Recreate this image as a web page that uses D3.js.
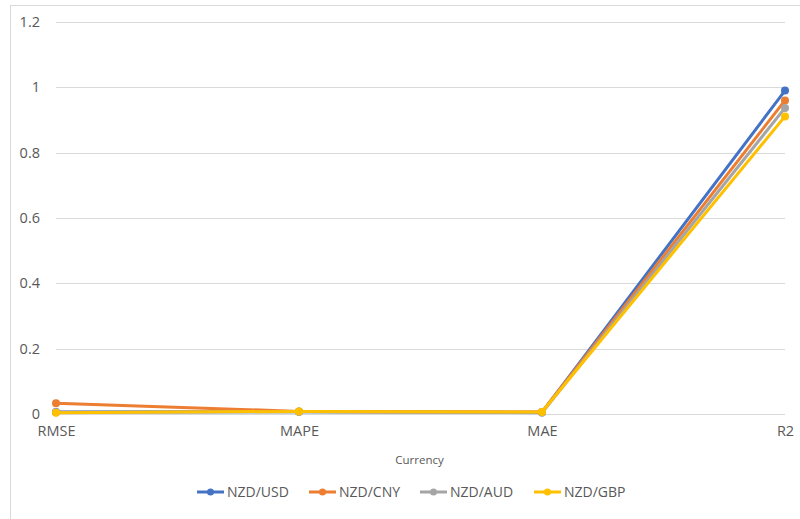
<!DOCTYPE html>
<html>
<head>
<meta charset="utf-8">
<script src="https://cdn.jsdelivr.net/npm/d3@7"></script>
<style>
  html, body { margin: 0; padding: 0; background: #fff; }
  svg { display: block; }
  text { font-family: "Open Sans", "Liberation Sans", sans-serif; fill: #595959; }
</style>
</head>
<body>
<svg id="chart" width="800" height="519"></svg>
<script>
// Error metrics per currency pair
const metrics = ["RMSE", "MAPE", "MAE", "R2"];
const seriesNames = ["NZD/USD", "NZD/CNY", "NZD/AUD", "NZD/GBP"];
const usdValues = [0.006, 0.007, 0.005, 0.99];
const cnyValues = [0.033, 0.008, 0.006, 0.96];
const audValues = [0.005, 0.007, 0.004, 0.937];
const gbpValues = [0.004, 0.008, 0.006, 0.911];
const seriesColors = ["#4472C4", "#ED7D31", "#A5A5A5", "#FFC000"];
const yTicks = [0, 0.2, 0.4, 0.6, 0.8, 1, 1.2];
const xTitle = "Currency";

const series = [usdValues, cnyValues, audValues, gbpValues].map((vals, i) => ({
  name: seriesNames[i],
  color: seriesColors[i],
  values: vals.map((v, j) => ({ metric: metrics[j], value: v }))
}));

const svg = d3.select("#chart");

// Chart frame
svg.append("rect")
  .attr("x", 10.5).attr("y", 5.5)
  .attr("width", 800).attr("height", 530)
  .attr("fill", "none").attr("stroke", "#d9d9d9").attr("stroke-width", 1);

const plot = { left: 56, right: 785, top: 22, bottom: 414 };

const x = d3.scalePoint().domain(metrics).range([plot.left, plot.right]);
const y = d3.scaleLinear().domain([0, 1.2]).range([plot.bottom, plot.top]);

// Horizontal gridlines
svg.append("g")
  .selectAll("line")
  .data(yTicks)
  .join("line")
  .attr("x1", plot.left).attr("x2", plot.right)
  .attr("y1", d => Math.round(y(d)) + 0.5).attr("y2", d => Math.round(y(d)) + 0.5)
  .attr("stroke", "#d9d9d9").attr("stroke-width", 1);

// Y axis labels
const yAxis = d3.axisLeft(y).tickValues(yTicks).tickSize(0).tickPadding(0)
  .tickFormat(d => d3.format("~g")(d));
svg.append("g")
  .attr("transform", `translate(40,0)`)
  .call(yAxis)
  .call(g => g.select(".domain").remove())
  .call(g => g.selectAll("text")
    .attr("fill", "#595959")
    .style("font-family", "'Open Sans', sans-serif")
    .style("font-size", "14.5px"));

// X axis labels
const xAxis = d3.axisBottom(x).tickSize(0).tickPadding(0);
svg.append("g")
  .attr("transform", `translate(0,${plot.bottom + 12})`)
  .call(xAxis)
  .call(g => g.select(".domain").remove())
  .call(g => g.selectAll("text")
    .attr("fill", "#595959")
    .style("font-family", "'Open Sans', sans-serif")
    .style("font-size", "14.5px"));

// X axis title
svg.append("text")
  .attr("x", (plot.left + plot.right) / 2 - 1)
  .attr("y", 464)
  .attr("text-anchor", "middle")
  .style("font-size", "11.5px")
  .text(xTitle);

// Lines and markers
const line = d3.line().x(d => x(d.metric)).y(d => y(d.value));

const groups = svg.append("g")
  .selectAll("g")
  .data(series)
  .join("g");

groups.append("path")
  .attr("d", d => line(d.values))
  .attr("fill", "none")
  .attr("stroke", d => d.color)
  .attr("stroke-width", 3)
  .attr("stroke-linejoin", "round")
  .attr("stroke-linecap", "round");

groups.selectAll("circle")
  .data(d => d.values.map(v => ({ ...v, color: d.color })))
  .join("circle")
  .attr("cx", d => x(d.metric))
  .attr("cy", d => y(d.value))
  .attr("r", 4)
  .attr("fill", d => d.color);

// Legend
const legendX = [197, 309, 420, 534];
const legendY = 492;
const legend = svg.append("g")
  .selectAll("g")
  .data(series)
  .join("g")
  .attr("transform", (d, i) => `translate(${legendX[i]},${legendY})`);

legend.append("line")
  .attr("x1", 0).attr("x2", 27)
  .attr("y1", 0).attr("y2", 0)
  .attr("stroke", d => d.color)
  .attr("stroke-width", 3);
legend.append("circle")
  .attr("cx", 13.5).attr("cy", 0).attr("r", 3.5)
  .attr("fill", d => d.color);
legend.append("text")
  .attr("x", 30).attr("y", 0)
  .attr("dy", "0.35em")
  .style("font-size", "14px")
  .text(d => d.name);
</script>
</body>
</html>
